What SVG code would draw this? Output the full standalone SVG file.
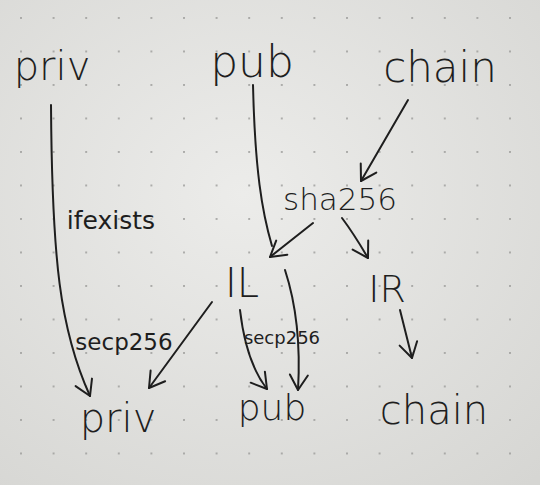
<svg xmlns="http://www.w3.org/2000/svg" width="540" height="485" viewBox="0 0 540 485">
<defs>
<radialGradient id="paper" cx="0.45" cy="0.4" r="0.8">
<stop offset="0" stop-color="#ececea"/>
<stop offset="1" stop-color="#d6d6d3"/>
</radialGradient>
<pattern id="dots" x="19" y="16" width="32.6" height="33.5" patternUnits="userSpaceOnUse">
<circle cx="2" cy="2" r="1" fill="#9a9a98"/>
</pattern>
<marker id="v" markerUnits="userSpaceOnUse" markerWidth="30" markerHeight="30" refX="0" refY="0" viewBox="-16 -15 30 30" orient="auto" overflow="visible">
<path d="M-15,-9 L0,0 L-15,9" fill="none" stroke="#1e1e1e" stroke-width="2" stroke-linecap="round" stroke-linejoin="round"/>
</marker>
<style>
.t{font-family:"DejaVu Sans","Liberation Sans",sans-serif;font-weight:300;fill:#1e1e1e;text-anchor:middle}
.s{font-weight:400}
.c{fill:none;stroke:#1e1e1e;stroke-width:2;stroke-linecap:round}
.a{marker-end:url(#v)}
</style>
</defs>
<rect width="540" height="485" fill="url(#paper)"/>
<rect width="540" height="485" fill="url(#dots)"/>
<g id="connectors">
<path class="c a" d="M51,105 C52,260 60,330 90,396"/>
<path class="c" d="M253,85 C255,170 262,212 272,246"/>
<path class="c a" d="M408,100 L361,181"/>
<path class="c a" d="M313,223 L270,257"/>
<path class="c a" d="M342,218 Q354,234 368,258"/>
<path class="c a" d="M212,302 L149,388"/>
<path class="c a" d="M240,310 Q246,362 267,389"/>
<path class="c a" d="M285,270 Q302,322 298,390"/>
<path class="c a" d="M400,310 L412,358"/>
</g>
<g id="priv-top"><text class="t" x="52" y="80" font-size="40">priv</text></g>
<g id="pub-top"><text class="t" x="252" y="77" font-size="44">pub</text></g>
<g id="chain-top"><text class="t" x="440" y="82" font-size="42">chain</text></g>
<g id="sha256"><text class="t" x="340" y="210" font-size="31">sha256</text></g>
<g id="ifexists-label"><text class="t s" x="111" y="229" font-size="25">ifexists</text></g>
<g id="IL"><text class="t" x="242" y="297" font-size="40">IL</text></g>
<g id="IR"><text class="t" x="387" y="302" font-size="38">IR</text></g>
<g id="secp256-left"><text class="t s" x="124" y="350" font-size="23">secp256</text></g>
<g id="secp256-right"><text class="t s" x="282" y="344" font-size="18">secp256</text></g>
<g id="priv-bottom"><text class="t" x="118" y="432" font-size="40">priv</text></g>
<g id="pub-bottom"><text class="t" x="272" y="420" font-size="36">pub</text></g>
<g id="chain-bottom"><text class="t" x="434" y="424" font-size="40">chain</text></g>
</svg>
